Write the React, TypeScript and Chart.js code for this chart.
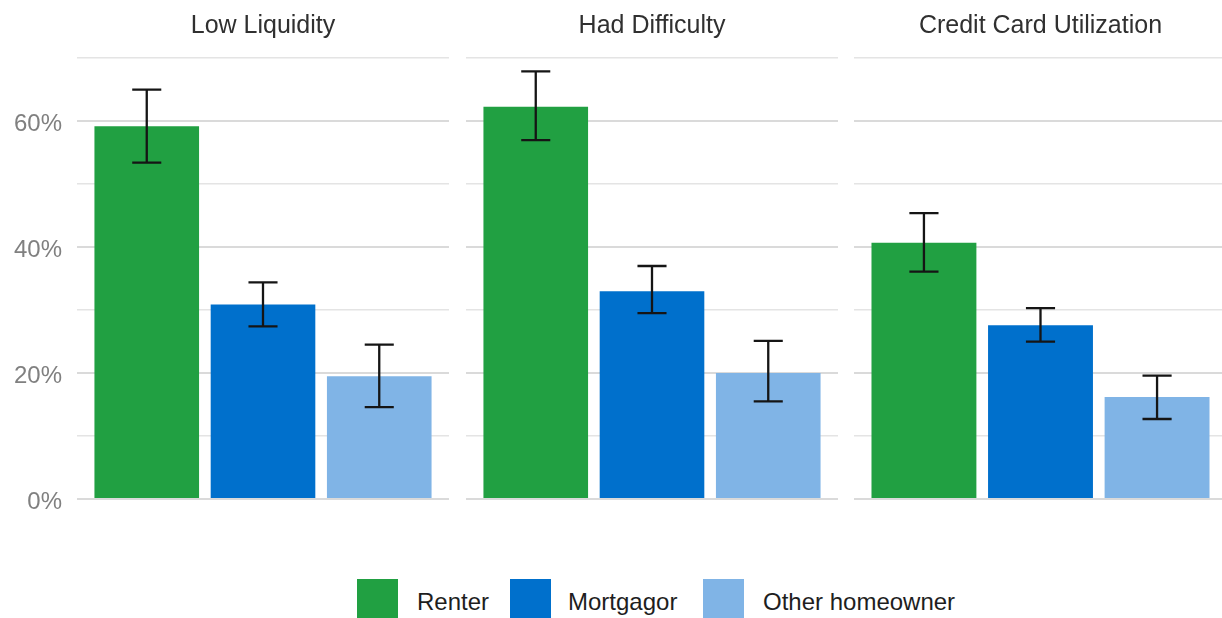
import React, { useEffect, useRef } from 'react';
import { Chart, registerables } from 'chart.js';

Chart.register(...registerables);

// ---- Data ----
const facets = ['Low Liquidity', 'Had Difficulty', 'Credit Card Utilization'];
const tenures = ['Renter', 'Mortgagor', 'Other homeowner'];
const tenureColors = ['#21A042', '#0070CC', '#80B4E6'];

const lowLiquidity = [59.2, 30.9, 19.5];
const lowLiquidityLo = [53.4, 27.4, 14.6];
const lowLiquidityHi = [65.0, 34.4, 24.5];

const hadDifficulty = [62.3, 33.0, 20.0];
const hadDifficultyLo = [57.0, 29.5, 15.5];
const hadDifficultyHi = [67.9, 37.0, 25.1];

const creditCard = [40.7, 27.6, 16.2];
const creditCardLo = [36.1, 25.0, 12.7];
const creditCardHi = [45.4, 30.3, 19.6];

const yTicks = [0, 10, 20, 30, 40, 50, 60, 70];
const yLabelTicks = [0, 20, 40, 60];

const FONT = "'Liberation Sans', Arial, Helvetica, sans-serif";

const errorBarPlugin = {
  id: 'errorBars',
  afterDatasetsDraw(chart: any, _args: any, opts: any) {
    if (!opts || !opts.lo) return;
    const ctx = chart.ctx;
    const meta = chart.getDatasetMeta(0);
    const xs = chart.scales.x;
    const ys = chart.scales.y;
    const half = (xs.getPixelForValue(0.125) - xs.getPixelForValue(0));
    ctx.save();
    ctx.strokeStyle = '#151515';
    ctx.lineWidth = 2.3;
    meta.data.forEach((bar: any, i: number) => {
      const x = bar.x;
      const yl = ys.getPixelForValue(opts.lo[i]);
      const yh = ys.getPixelForValue(opts.hi[i]);
      ctx.beginPath();
      ctx.moveTo(x, yl);
      ctx.lineTo(x, yh);
      ctx.moveTo(x - half, yl);
      ctx.lineTo(x + half, yl);
      ctx.moveTo(x - half, yh);
      ctx.lineTo(x + half, yh);
      ctx.stroke();
    });
    ctx.restore();
  },
};

type PanelProps = {
  title: string;
  values: number[];
  lo: number[];
  hi: number[];
  left: number;
  width: number;
  axisWidth: number;
  showAxis: boolean;
};

function Panel({ title, values, lo, hi, left, width, axisWidth, showAxis }: PanelProps) {
  const ref = useRef<HTMLCanvasElement | null>(null);
  useEffect(() => {
    if (!ref.current) return;
    const chart = new Chart(ref.current, {
      type: 'bar',
      data: {
        labels: tenures,
        datasets: [
          {
            label: title,
            data: values.map((v, i) => ({ x: i, y: v })) as any,
            backgroundColor: tenureColors,
            borderWidth: 0,
            barPercentage: 0.9,
            categoryPercentage: 1.0,
          },
        ],
      },
      options: {
        animation: false,
        responsive: false,
        maintainAspectRatio: false,
        events: [],
        layout: { padding: { left: 0, right: 0, top: 0, bottom: 19.6 } },
        plugins: {
          legend: { display: false },
          tooltip: { enabled: false },
          title: {
            display: true,
            text: title,
            fullSize: false,
            color: '#303030',
            font: { family: FONT, size: 25, weight: 'normal' as any, lineHeight: 1.2 },
            padding: { top: 11, bottom: 9 },
          },
          errorBars: { lo, hi },
        } as any,
        scales: {
          x: {
            type: 'linear',
            min: -0.6,
            max: 2.6,
            display: false,
            offset: false,
            afterBuildTicks: (s: any) => {
              s.ticks = tenures.map((_t, i) => ({ value: i }));
            },
          },
          y: {
            min: -3.4,
            max: 71.3,
            afterBuildTicks: (s: any) => {
              s.ticks = yTicks.map((v) => ({ value: v }));
            },
            afterFit: (s: any) => {
              s.width = axisWidth;
              s.paddingTop = 0;
              s.paddingBottom = 0;
            },
            border: { display: false },
            grid: {
              drawTicks: false,
              color: (c: any) => (yLabelTicks.includes(c.tick?.value) ? '#dadada' : '#e4e4e4'),
              lineWidth: (c: any) => (yLabelTicks.includes(c.tick?.value) ? 2 : 1.6),
            },
            ticks: {
              display: showAxis,
              padding: 15,
              labelOffset: 3,
              color: '#808080',
              font: { family: FONT, size: 24 },
              callback: (v: any) => (yLabelTicks.includes(Number(v)) ? `${v}%` : ''),
            },
          },
        } as any,
      },
      plugins: [errorBarPlugin],
    });
    return () => chart.destroy();
  }, [title, values, lo, hi, axisWidth, showAxis]);
  return (
    <canvas
      ref={ref}
      width={width}
      height={540}
      style={{ position: 'absolute', left, top: 0, width, height: 540 }}
    />
  );
}

const legendSwatchX = [357, 510, 703];
const legendTextX = [417, 568, 763];

export default function App() {
  return (
    <div
      style={{
        position: 'fixed',
        left: 0,
        top: 0,
        width: 1222,
        height: 618,
        overflow: 'hidden',
        background: '#ffffff',
      }}
    >
      <Panel title={facets[0]} values={lowLiquidity} lo={lowLiquidityLo} hi={lowLiquidityHi} left={0} width={449} axisWidth={77} showAxis={true} />
      <Panel title={facets[1]} values={hadDifficulty} lo={hadDifficultyLo} hi={hadDifficultyHi} left={466} width={372} axisWidth={0} showAxis={false} />
      <Panel title={facets[2]} values={creditCard} lo={creditCardLo} hi={creditCardHi} left={854} width={373} axisWidth={0} showAxis={false} />
      {tenures.map((t, i) => (
        <React.Fragment key={t}>
          <div
            style={{
              position: 'absolute',
              left: legendSwatchX[i],
              top: 579,
              width: 41,
              height: 41,
              background: tenureColors[i],
            }}
          />
          <div
            style={{
              position: 'absolute',
              left: legendTextX[i],
              top: 581,
              height: 41,
              lineHeight: '41px',
              fontFamily: FONT,
              fontSize: 24,
              color: '#1e1e1e',
              whiteSpace: 'nowrap',
            }}
          >
            {t}
          </div>
        </React.Fragment>
      ))}
    </div>
  );
}
